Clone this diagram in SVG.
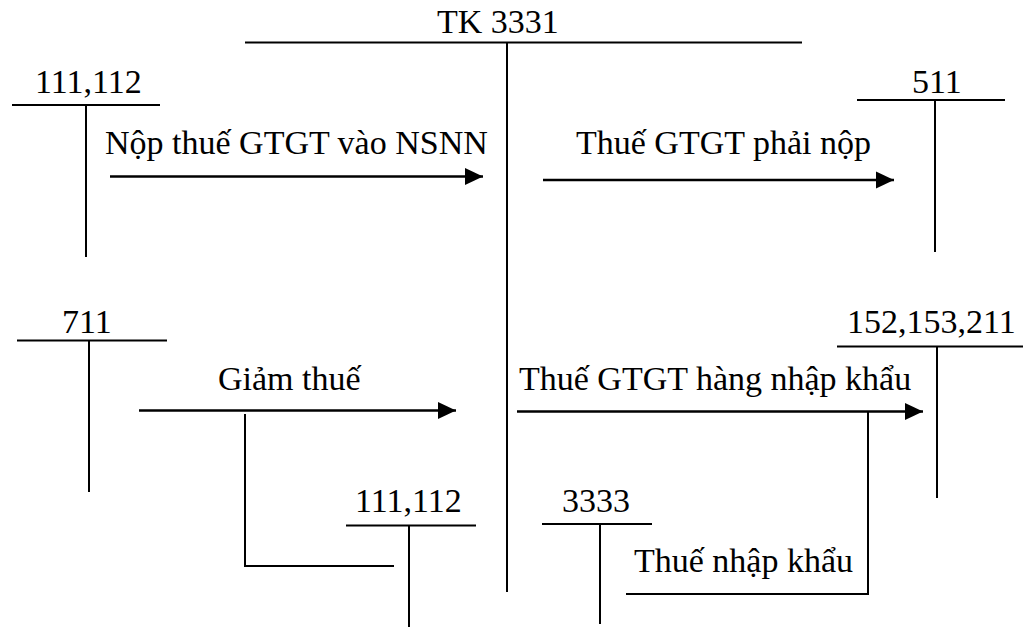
<svg xmlns="http://www.w3.org/2000/svg" width="1028" height="628" viewBox="0 0 1028 628">
<defs>
<marker id="ah" markerUnits="userSpaceOnUse" markerWidth="18" markerHeight="18" viewBox="0 0 16 16" refX="16" refY="8" orient="auto">
<path d="M0,0.5 L16,8 L0,15.5 Z" fill="#000"/>
</marker>
<style>
.t{font-family:"Liberation Serif","Times New Roman",serif;font-size:34px;fill:#000}
.l{stroke:#000;stroke-width:2;fill:none}
.a{stroke:#000;stroke-width:2.5;fill:none;marker-end:url(#ah)}
</style>
</defs>
<rect width="1028" height="628" fill="#fff"/>
<g id="tk3331">
<text class="t" x="437" y="33">TK 3331</text>
<line class="l" x1="245" y1="42.5" x2="802" y2="42.5"/>
<line class="l" x1="507" y1="42.5" x2="507" y2="592"/>
</g>
<g id="tk111112a">
<text class="t" x="35" y="93">111,112</text>
<line class="l" x1="12" y1="105" x2="160" y2="105"/>
<line class="l" x1="86" y1="105" x2="86" y2="257"/>
</g>
<g id="tk511">
<text class="t" x="912" y="93">511</text>
<line class="l" x1="857" y1="100" x2="1005" y2="100"/>
<line class="l" x1="935" y1="100" x2="935" y2="252"/>
</g>
<g id="tk711">
<text class="t" x="62" y="333">711</text>
<line class="l" x1="17" y1="340.5" x2="167" y2="340.5"/>
<line class="l" x1="89" y1="340.5" x2="89" y2="492"/>
</g>
<g id="tk152153211">
<text class="t" x="847" y="333">152,153,211</text>
<line class="l" x1="837" y1="346.5" x2="1023" y2="346.5"/>
<line class="l" x1="937" y1="346.5" x2="937" y2="498"/>
</g>
<g id="tk111112b">
<text class="t" x="355" y="512">111,112</text>
<line class="l" x1="346" y1="525.5" x2="476" y2="525.5"/>
<line class="l" x1="409" y1="525.5" x2="409" y2="627"/>
</g>
<g id="tk3333">
<text class="t" x="562" y="512">3333</text>
<line class="l" x1="542" y1="524" x2="652" y2="524"/>
<line class="l" x1="600" y1="524" x2="600" y2="624"/>
</g>
<g id="connectors">
<line class="a" x1="110" y1="176.5" x2="483" y2="176.5"/>
<text class="t" x="105" y="154">Nộp thuế GTGT vào NSNN</text>
<line class="a" x1="543" y1="180" x2="894" y2="180"/>
<text class="t" x="576" y="154">Thuế GTGT phải nộp</text>
<line class="a" x1="139" y1="410.5" x2="456" y2="410.5"/>
<text class="t" x="218" y="390">Giảm thuế</text>
<polyline class="l" points="245,414 245,566 394,566"/>
<line class="a" x1="517" y1="411.5" x2="923" y2="411.5"/>
<text class="t" x="519" y="390">Thuế GTGT hàng nhập khẩu</text>
<polyline class="l" points="868,411.5 868,594 626,594"/>
<text class="t" x="634" y="572">Thuế nhập khẩu</text>
</g>
</svg>
